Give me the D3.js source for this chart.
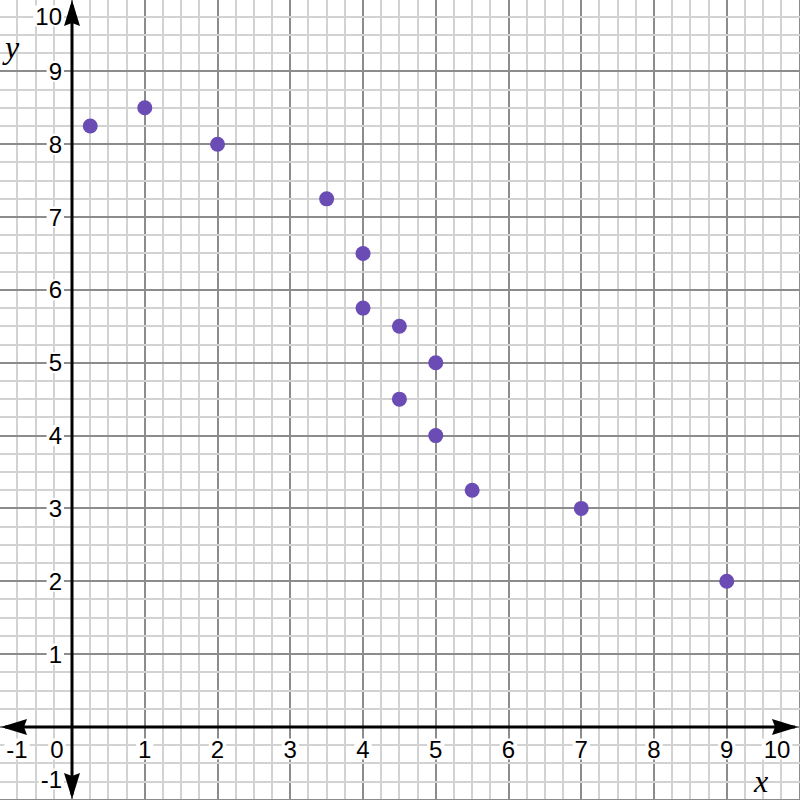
<!DOCTYPE html>
<html>
<head>
<meta charset="utf-8">
<script src="https://cdn.jsdelivr.net/npm/d3@7"></script>
<style>
  body { margin: 0; background: #fff; }
  svg { display: block; }
</style>
</head>
<body>
<svg id="svg"></svg>
<script>
const xValues = [0.25, 1, 2, 3.5, 4, 4, 4.5, 5, 4.5, 5, 5.5, 7, 9];
const yValues = [8.25, 8.5, 8, 7.25, 6.5, 5.75, 5.5, 5, 4.5, 4, 3.25, 3, 2];
const xTicks = [-1, 0, 1, 2, 3, 4, 5, 6, 7, 8, 9, 10];
const yTicks = [-1, 1, 2, 3, 4, 5, 6, 7, 8, 9, 10];

const width = 800;
const height = 800;
let svg = d3.select("#svg").attr("width", width).attr("height", height);

let xScale = d3.scaleLinear().domain([-1, 10]).range([-0.7, 799.5]);
let yScale = d3.scaleLinear().domain([-1, 10]).range([799.8, -1.5]);

// grid: minor every 0.25, major every 1 (snapped to whole pixels so 2px lines stay crisp)
let minor = d3.range(-4, 41).map(d => d / 4);
let grid = svg.append("g");
grid.selectAll(".vx")
    .data(minor)
    .join("line")
    .attr("x1", d => Math.round(xScale(d))).attr("x2", d => Math.round(xScale(d)))
    .attr("y1", 0).attr("y2", height)
    .attr("stroke", d => Number.isInteger(d) ? "#8c8c8c" : "#d2d2d2")
    .attr("stroke-width", 2);
grid.selectAll(".hy")
    .data(minor)
    .join("line")
    .attr("y1", d => Math.round(yScale(d))).attr("y2", d => Math.round(yScale(d)))
    .attr("x1", 0).attr("x2", width)
    .attr("stroke", d => Number.isInteger(d) ? "#8c8c8c" : "#d2d2d2")
    .attr("stroke-width", 2);

function arrowHead(x, y, angle) {
    svg.append("path")
        .attr("d", "M0,0 L-26,-8 L-23,0 L-26,8 Z")
        .attr("transform", `translate(${x},${y}) rotate(${angle})`)
        .attr("fill", "#000");
}

// axes with arrows
let x0 = Math.round(xScale(0)), y0 = Math.round(yScale(0));
svg.append("line")
    .attr("x1", 5).attr("x2", width - 5)
    .attr("y1", y0).attr("y2", y0)
    .attr("stroke", "#000").attr("stroke-width", 3);
svg.append("line")
    .attr("x1", x0).attr("x2", x0)
    .attr("y1", 5).attr("y2", height - 5)
    .attr("stroke", "#000").attr("stroke-width", 3);
arrowHead(width - 2, y0, 0);
arrowHead(1, y0, 180);
arrowHead(x0, 0, -90);
arrowHead(x0, height - 1, 90);

// labels with white backing
function label(txt, x, y, anchor) {
    let g = svg.append("g");
    let t = g.append("text")
        .attr("x", x).attr("y", y)
        .attr("text-anchor", anchor)
        .attr("dominant-baseline", "central")
        .attr("font-family", "Arial, 'Liberation Sans', sans-serif")
        .attr("font-size", "24px")
        .attr("fill", "#000")
        .text(txt);
    let b = t.node().getBBox();
    g.insert("rect", "text")
        .attr("x", b.x - 2).attr("y", b.y + 3)
        .attr("width", b.width + 4).attr("height", b.height - 6)
        .attr("fill", "#fff");
}

xTicks.forEach(d => {
    let x = xScale(d);
    if (d === -1) x = 17;
    if (d === 0) x = 57;
    if (d === 10) x = 777;
    label(String(d), x, y0 + 22, "middle");
});
yTicks.forEach(d => {
    let y = yScale(d);
    if (d === 10) y = 16;
    if (d === -1) y = 779;
    label(String(d), 62, y, "end");
});

// axis names
svg.append("text")
    .attr("x", 12).attr("y", 58)
    .attr("text-anchor", "middle")
    .attr("font-family", "'Times New Roman', 'Liberation Serif', serif")
    .attr("font-style", "italic")
    .attr("font-size", "32px")
    .text("y");
svg.append("text")
    .attr("x", 761).attr("y", 792)
    .attr("text-anchor", "middle")
    .attr("font-family", "'Times New Roman', 'Liberation Serif', serif")
    .attr("font-style", "italic")
    .attr("font-size", "32px")
    .text("x");

// points
svg.append("g")
    .selectAll("circle")
    .data(xValues.map((x, i) => ({ x: x, y: yValues[i] })))
    .join("circle")
    .attr("cx", d => xScale(d.x))
    .attr("cy", d => yScale(d.y))
    .attr("r", 7.5)
    .attr("fill", "#6a4cb4");
</script>
</body>
</html>
